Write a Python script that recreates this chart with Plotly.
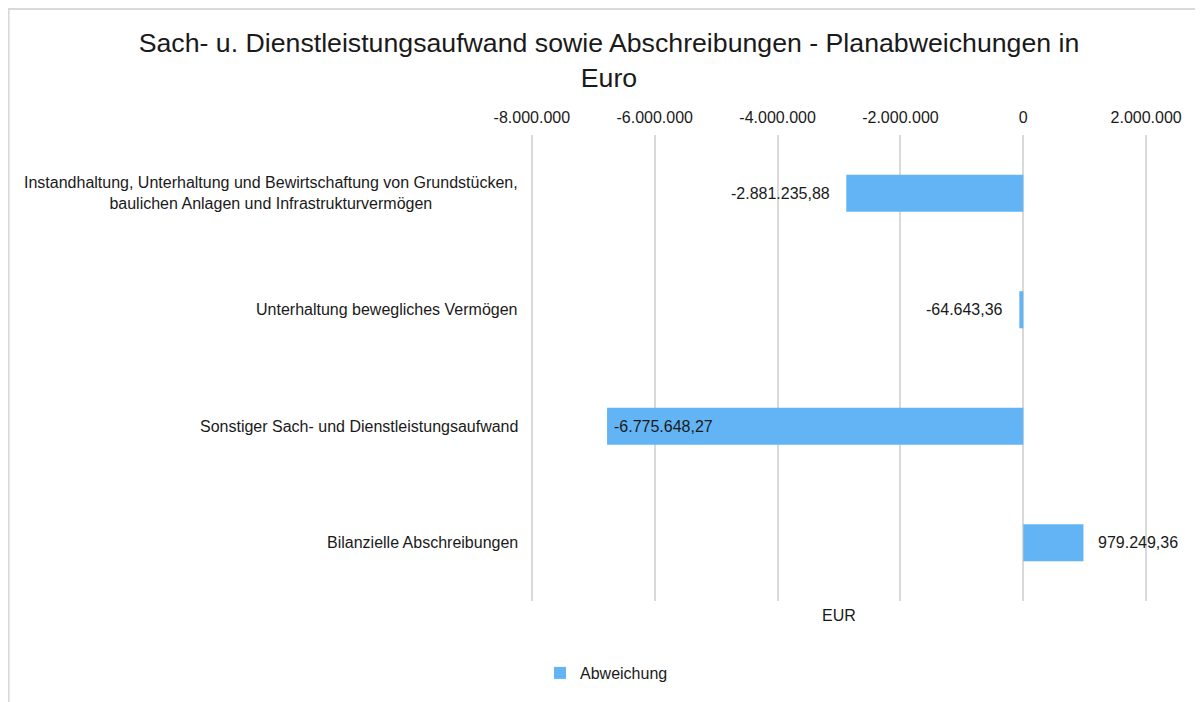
import plotly.graph_objects as go

categories = [
    "Instandhaltung, Unterhaltung und Bewirtschaftung von Grundstücken,<br>baulichen Anlagen und Infrastrukturvermögen",
    "Unterhaltung bewegliches Vermögen",
    "Sonstiger Sach- und Dienstleistungsaufwand",
    "Bilanzielle Abschreibungen",
]
values = [-2881235.88, -64643.36, -6775648.27, 979249.36]
series_name = "Abweichung"
tick_values = [-8000000, -6000000, -4000000, -2000000, 0, 2000000]
tick_labels = ["-8.000.000", "-6.000.000", "-4.000.000", "-2.000.000", "0", "2.000.000"]
label_inside = [False, False, True, False]

FONT = "Liberation Sans, Arial, sans-serif"
TXT = "#1a1a1a"
BAR = "#63B4F5"
GRID = "#d9d9d9"


def de_fmt(v):
    s = f"{v:,.2f}"
    return s.replace(",", "X").replace(".", ",").replace("X", ".")


# page has an 8px body margin; figure coordinates are screen coordinates - 8
OFF = 8
W, H = 1203 - OFF, 702 - OFF
X_LO, X_HI = -8000000, 2000000
PAD = 30000
plot_left_px, plot_right_px = 532 - OFF, 1146 - OFF
scale = (plot_right_px - plot_left_px) / (X_HI - X_LO)
L = plot_left_px - PAD * scale
R = W - (plot_right_px + PAD * scale)
T = 135 - OFF
B = H - (601 - OFF)
pw, ph = W - L - R, H - T - B

fig = go.Figure()
fig.add_trace(go.Bar(
    y=categories, x=values, orientation="h", name=series_name,
    marker=dict(color=BAR, line=dict(width=0)),
    hoverinfo="skip",
))

annotations = []
for c in categories:
    annotations.append(dict(
        x=X_LO, xref="x", y=c, yref="y", text=c, showarrow=False,
        xanchor="right", yanchor="middle", align="center", xshift=-12,
        font=dict(family=FONT, size=16, color=TXT),
    ))
for c, v, ins in zip(categories, values, label_inside):
    if ins:
        anchor, shift = ("left", 5) if v < 0 else ("right", -5)
    else:
        anchor, shift = ("right", -14) if v < 0 else ("left", 13)
    annotations.append(dict(
        x=v, xref="x", y=c, yref="y", text=de_fmt(v), showarrow=False,
        xanchor=anchor, yanchor="middle", xshift=shift,
        font=dict(family=FONT, size=16, color=TXT),
    ))
annotations.append(dict(
    x=0.5, xref="paper", y=0, yref="paper", text="EUR", showarrow=False,
    xanchor="center", yanchor="top", yshift=-4,
    font=dict(family=FONT, size=16, color=TXT),
))


def px(xpix):
    return (xpix - L) / pw


def py(ypix):
    return (H - B - ypix) / ph


shapes = [dict(
    type="rect", xref="paper", yref="paper",
    x0=px(1), x1=px(W + 20), y0=py(H + 20), y1=py(1),
    line=dict(color=GRID, width=2), fillcolor="rgba(0,0,0,0)", layer="below",
)]

fig.update_layout(
    width=W, height=H,
    margin=dict(l=L, r=R, t=T, b=B, autoexpand=False),
    paper_bgcolor="white", plot_bgcolor="white",
    font=dict(family=FONT, size=16, color=TXT),
    title=dict(
        text="Sach- u. Dienstleistungsaufwand sowie Abschreibungen - Planabweichungen in<br>Euro",
        x=(609 - OFF) / W, xref="container", xanchor="center",
        y=1 - 44 / H, yref="container", yanchor="top",
        font=dict(family=FONT, size=26.7, color=TXT),
    ),
    bargap=0.682,
    xaxis=dict(
        side="top", range=[X_LO - PAD, X_HI + PAD],
        tickvals=tick_values, ticktext=tick_labels,
        showgrid=True, gridcolor=GRID, gridwidth=1.5,
        zeroline=True, zerolinecolor=GRID, zerolinewidth=1.5,
        showline=False, ticks="", ticklabelstandoff=8,
        tickfont=dict(family=FONT, size=16, color=TXT),
        fixedrange=True,
    ),
    yaxis=dict(
        categoryorder="array", categoryarray=categories, autorange="reversed",
        showticklabels=False, showgrid=False, zeroline=False, showline=False, ticks="",
        fixedrange=True,
    ),
    showlegend=True,
    legend=dict(
        orientation="h", xref="container", yref="container",
        x=(540 - OFF) / W, xanchor="left", y=1 - (673 - OFF) / H, yanchor="middle",
        font=dict(family=FONT, size=16, color=TXT),
        bgcolor="rgba(0,0,0,0)",
    ),
    annotations=annotations,
    shapes=shapes,
)

fig.write_html("out.html")
